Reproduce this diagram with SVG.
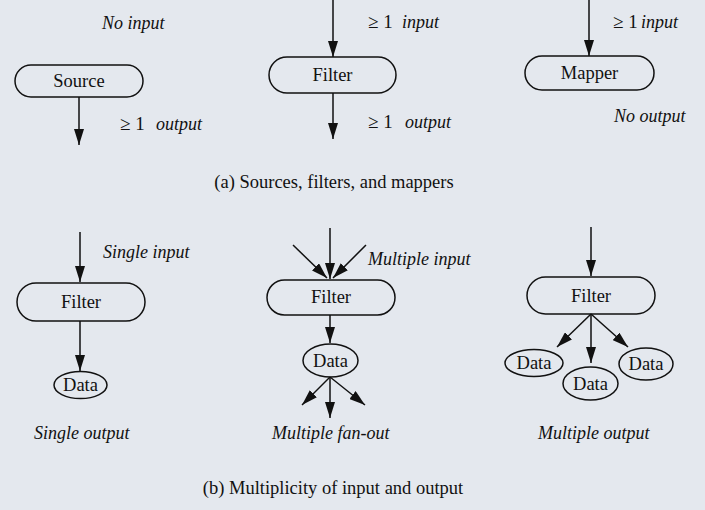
<svg xmlns="http://www.w3.org/2000/svg" width="705" height="510" viewBox="0 0 705 510">
<defs>
<marker id="ah" markerUnits="userSpaceOnUse" markerWidth="16" markerHeight="10" refX="16" refY="5" orient="auto">
<path d="M0,0 L16,5 L0,10 z" fill="#111"/>
</marker>
<style>
.bg{fill:#e4e8ee}
.node{fill:none;stroke:#111;stroke-width:1.5}
.lbl{font-family:"Liberation Serif","Times New Roman",serif;font-size:18.5px;fill:#111;text-anchor:middle}
.t{font-family:"Liberation Serif","Times New Roman",serif;font-size:18px;fill:#111}
.ge{font-size:19px}
.it{font-style:italic}
.edge{stroke:#111;stroke-width:1.5;fill:none;marker-end:url(#ah)}
</style>
</defs>
<rect class="bg" x="0" y="0" width="705" height="510"/>

<g id="connectors">
<line class="edge" x1="79" y1="97" x2="79" y2="145"/>
<line class="edge" x1="333" y1="0" x2="333" y2="57"/>
<line class="edge" x1="333" y1="93" x2="333" y2="139"/>
<line class="edge" x1="589" y1="0" x2="589" y2="56"/>
<line class="edge" x1="80" y1="232" x2="80" y2="282"/>
<line class="edge" x1="80" y1="321" x2="80" y2="371"/>
<line class="edge" x1="330" y1="228" x2="330" y2="279"/>
<line class="edge" x1="293" y1="245" x2="327" y2="278"/>
<line class="edge" x1="366" y1="245" x2="333" y2="278"/>
<line class="edge" x1="330" y1="315" x2="330" y2="343"/>
<line class="edge" x1="330" y1="377" x2="302" y2="405"/>
<line class="edge" x1="330" y1="377" x2="330" y2="418"/>
<line class="edge" x1="330" y1="377" x2="365" y2="405"/>
<line class="edge" x1="591" y1="227" x2="591" y2="276"/>
<line class="edge" x1="591" y1="314" x2="557" y2="347"/>
<line class="edge" x1="591" y1="314" x2="591" y2="363"/>
<line class="edge" x1="591" y1="314" x2="628" y2="347"/>
</g>

<g id="source">
<rect class="node" x="15" y="65" width="128" height="32" rx="16"/>
<text class="lbl" x="79" y="87">Source</text>
</g>
<g id="filter-a">
<rect class="node" x="269" y="57" width="127" height="36" rx="18"/>
<text class="lbl" x="332.5" y="81">Filter</text>
</g>
<g id="mapper">
<rect class="node" x="525" y="56" width="129" height="34" rx="17"/>
<text class="lbl" x="589.5" y="79">Mapper</text>
</g>
<g id="filter-b1">
<rect class="node" x="17" y="283" width="128" height="38" rx="19"/>
<text class="lbl" x="81" y="308">Filter</text>
</g>
<g id="data-b1">
<ellipse class="node" cx="80.5" cy="385" rx="26.5" ry="13.5"/>
<text class="lbl" x="80.5" y="391">Data</text>
</g>
<g id="filter-b2">
<rect class="node" x="267" y="280" width="128" height="35" rx="17.5"/>
<text class="lbl" x="331" y="303">Filter</text>
</g>
<g id="data-b2">
<ellipse class="node" cx="330.5" cy="360.5" rx="27.5" ry="16.5"/>
<text class="lbl" x="330.5" y="366.5">Data</text>
</g>
<g id="filter-b3">
<rect class="node" x="527" y="277" width="128" height="37" rx="18.5"/>
<text class="lbl" x="591" y="302">Filter</text>
</g>
<g id="data-b3a">
<ellipse class="node" cx="534" cy="363" rx="29" ry="13.5"/>
<text class="lbl" x="534" y="369">Data</text>
</g>
<g id="data-b3b">
<ellipse class="node" cx="590.5" cy="383.5" rx="27.5" ry="16.5"/>
<text class="lbl" x="590.5" y="389.5">Data</text>
</g>
<g id="data-b3c">
<ellipse class="node" cx="646" cy="364" rx="27" ry="16"/>
<text class="lbl" x="646" y="370">Data</text>
</g>

<g id="labels">
<text class="t it" x="102" y="29">No input</text>
<text class="t ge" x="120" y="130">≥ 1</text>
<text class="t it" x="156" y="130">output</text>
<text class="t ge" x="368" y="28">≥ 1</text>
<text class="t it" x="402" y="28">input</text>
<text class="t ge" x="368" y="128">≥ 1</text>
<text class="t it" x="405" y="128">output</text>
<text class="t ge" x="613" y="28">≥ 1</text>
<text class="t it" x="641" y="28">input</text>
<text class="t it" x="614" y="122">No output</text>
<text class="lbl" x="334" y="188">(a) Sources, filters, and mappers</text>
<text class="t it" x="103" y="258">Single input</text>
<text class="t it" x="368" y="265">Multiple input</text>
<text class="t it" x="34" y="439">Single output</text>
<text class="t it" x="272" y="439">Multiple fan-out</text>
<text class="t it" x="538" y="439">Multiple output</text>
<text class="lbl" x="333" y="494">(b) Multiplicity of input and output</text>
</g>
</svg>
